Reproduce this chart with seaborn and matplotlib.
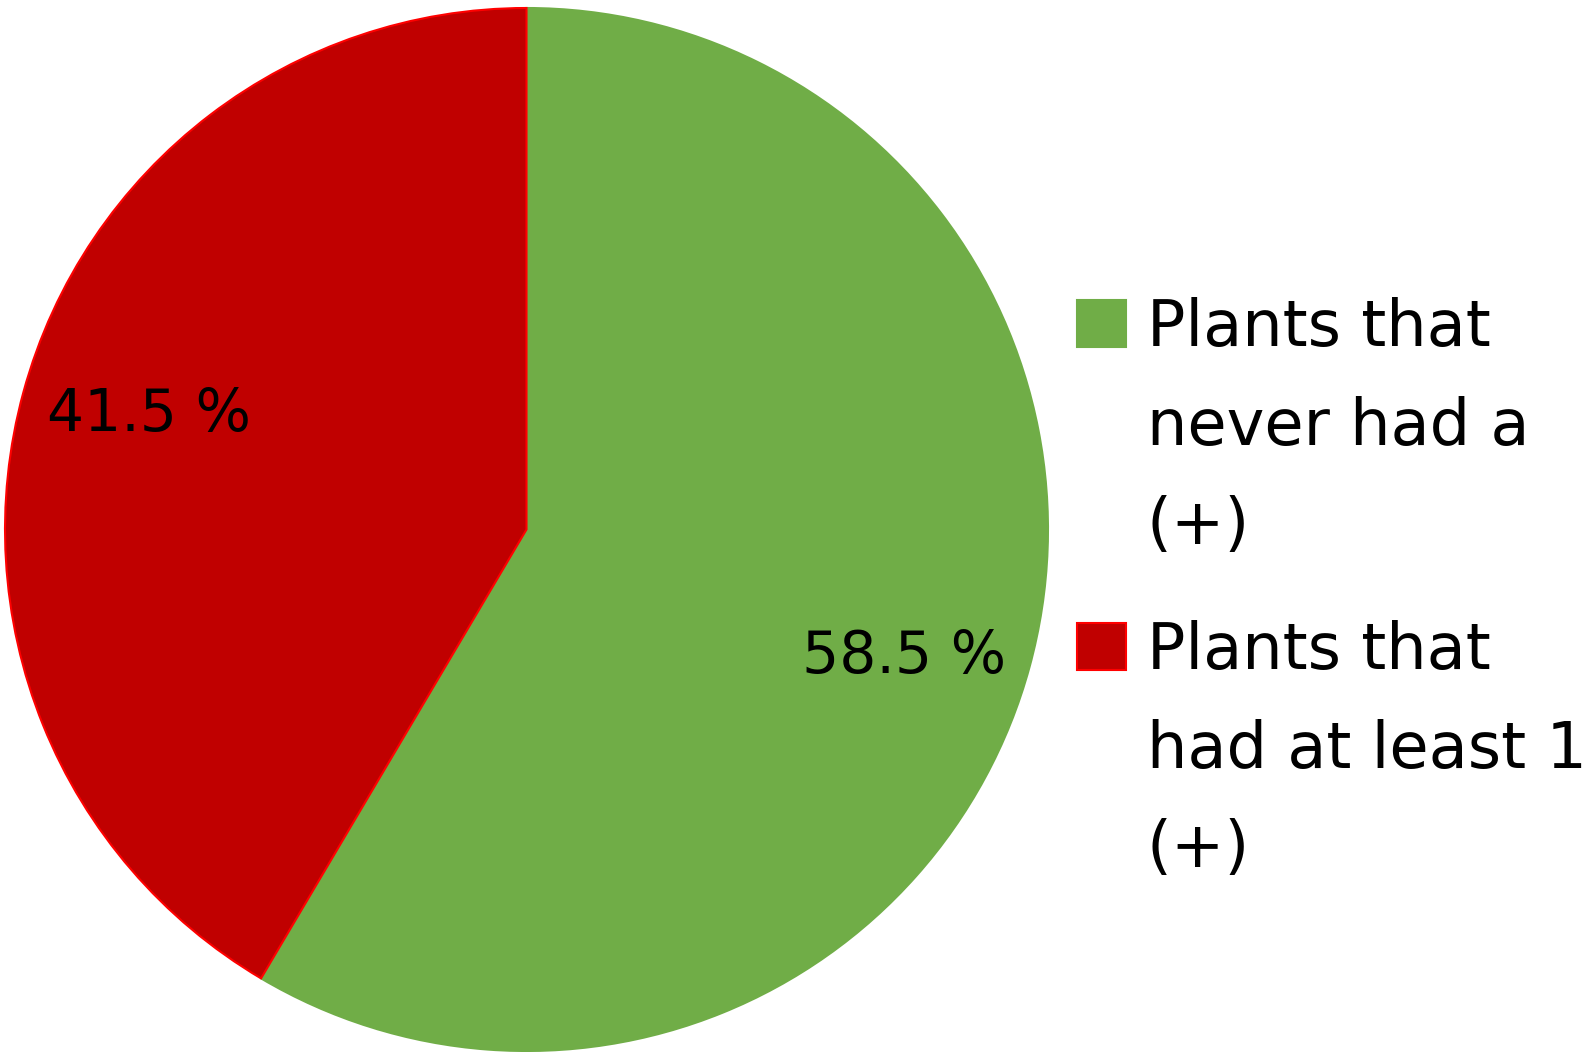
import matplotlib
matplotlib.use("Agg")
import numpy as np
import matplotlib.pyplot as plt
import matplotlib.patches as mpatches
import seaborn as sns

# data
labels = ["Plants that\nnever had a\n(+)", "Plants that\nhad at least 1\n(+)"]
values = [58.5, 41.5]
colors = ["#70AD47", "#C00000"]
edges = ["#70AD47", "#FF0000"]

sns.set_theme(style="white")
plt.rcParams['font.family'] = ['DejaVu Sans']
plt.rcParams['text.color'] = 'black'

W, H = 1588, 1052
fig = plt.figure(figsize=(W / 100, H / 100), dpi=100)
cx, cy, r = 526.5, 529.5, 521.5
ax = fig.add_axes([(cx - r) / W, (H - cy - r) / H, 2 * r / W, 2 * r / H])

wedges, texts, autotexts = ax.pie(values, colors=colors, startangle=90, counterclock=False,
                                  autopct="%.1f %%", pctdistance=0.76, radius=1,
                                  textprops={"fontsize": 42, "color": "black"})
for w, ec, t in zip(wedges, edges, autotexts):
    w.set_edgecolor(ec)
    w.set_linewidth(1.5)
    # labels sit a little clockwise of the wedge middle
    ang = np.deg2rad((w.theta1 + w.theta2) / 2 - 2.5)
    t.set_position((0.76 * np.cos(ang), 0.76 * np.sin(ang)))
    t.set_va("center_baseline")
ax.set_xlim(-1, 1)
ax.set_ylim(-1, 1)
ax.axis("off")

# legend: one legend per entry so the square sits on the first line
tops = [297, 620]
for lab, c, ec, top in zip(labels, colors, edges, tops):
    lines = lab.split("\n")
    hs = [mpatches.Patch(facecolor=c, edgecolor=ec, linewidth=1.5)] + \
         [mpatches.Patch(facecolor="none", edgecolor="none") for _ in lines[1:]]
    leg = fig.legend(hs, lines, loc="upper left", bbox_to_anchor=(1077 / W, 1 - top / H),
                     bbox_transform=fig.transFigure, frameon=False, fontsize=46,
                     handlelength=0.76, handleheight=0.76, handletextpad=0.33,
                     labelspacing=0.58, borderpad=0, borderaxespad=0)
    for t in leg.get_texts():
        t.set_color("black")

fig.savefig("out.png", dpi=100)
